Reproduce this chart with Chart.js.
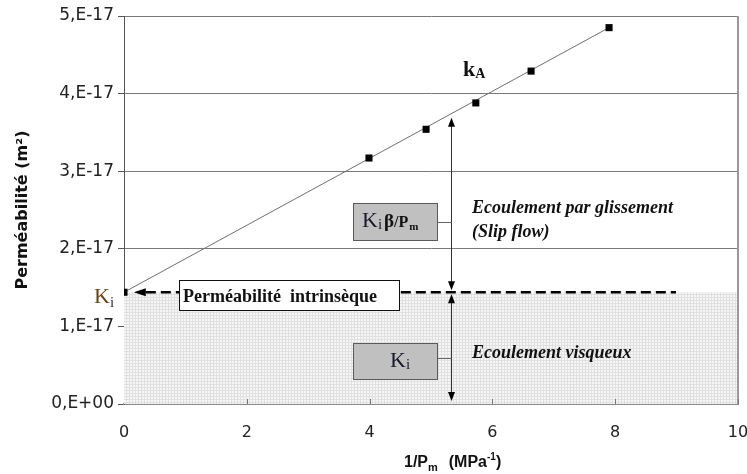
<!DOCTYPE html>
<html><head><meta charset="utf-8">
<script src="https://cdn.jsdelivr.net/npm/chart.js@4"></script>
<style>html,body{margin:0;padding:0;background:#fff}#wrap{width:747px;height:474px;position:relative}</style>
</head><body><div id="wrap"><canvas id="c" width="747" height="474"></canvas></div>
<script>
// ---- data ----
const invPm = [0, 3.99, 4.92, 5.73, 6.63, 7.90];                 // 1/Pm (MPa^-1)
const permeability = [1.44e-17, 3.17e-17, 3.54e-17, 3.88e-17, 4.29e-17, 4.85e-17]; // m²
const fitX = [0, 7.90];
const fitY = [1.44e-17, 4.85e-17];
const kIntrinsic = 1.44e-17;
const shadeX = [0, 10];
const xTickValues = [0, 2, 4, 6, 8, 10];
const xTickLabels = ['0', '2', '4', '6', '8', '10'];
const yTickValues = [0, 1e-17, 2e-17, 3e-17, 4e-17, 5e-17];
const yTickLabels = ['0,E+00', '1,E-17', '2,E-17', '3,E-17', '4,E-17', '5,E-17'];

// dotted texture for the viscous-flow zone
function makePattern() {
  const p = document.createElement('canvas'); p.width = 3; p.height = 3;
  const g = p.getContext('2d');
  g.fillStyle = '#f6f6f6'; g.fillRect(0, 0, 3, 3);
  g.fillStyle = '#e0e0e0'; g.fillRect(0, 0, 3, 1); g.fillRect(0, 0, 1, 3);
  return document.getElementById('c').getContext('2d').createPattern(p, 'repeat');
}

function runs(ctx, x, base, parts) {
  let cx = x;
  for (const r of parts) {
    ctx.font = r.f; ctx.fillStyle = r.c || '#111';
    ctx.fillText(r.t, cx, base + (r.dy || 0));
    cx += ctx.measureText(r.t).width + (r.sp || 0);
  }
}
function arrowHead(ctx, x, y, dir, w, l) {
  ctx.beginPath();
  if (dir === 'up') { ctx.moveTo(x, y); ctx.lineTo(x - w / 2, y + l); ctx.lineTo(x + w / 2, y + l); }
  else if (dir === 'down') { ctx.moveTo(x, y); ctx.lineTo(x - w / 2, y - l); ctx.lineTo(x + w / 2, y - l); }
  else { ctx.moveTo(x, y); ctx.lineTo(x + l, y - w / 2); ctx.lineTo(x + l, y + w / 2); }
  ctx.closePath(); ctx.fill();
}

const annot = {
  id: 'annot',
  afterDatasetsDraw(chart) {
    const { ctx, scales: { x, y }, chartArea: ca } = chart;
    ctx.save();
    // right frame
    ctx.strokeStyle = '#9a9a9a'; ctx.lineWidth = 2;
    ctx.beginPath(); ctx.moveTo(ca.right, ca.top); ctx.lineTo(ca.right, ca.bottom); ctx.stroke();
    // inner x ticks
    ctx.strokeStyle = '#777'; ctx.lineWidth = 1;
    xTickValues.forEach(v => {
      if (v === 0) return;
      const px = Math.round(x.getPixelForValue(v)) + 0.5;
      ctx.beginPath(); ctx.moveTo(px, ca.bottom); ctx.lineTo(px, ca.bottom - 5); ctx.stroke();
    });
    const ky = y.getPixelForValue(kIntrinsic);
    // dashed intrinsic line with arrow to Ki
    const tipX = x.getPixelForValue(0.16);
    ctx.fillStyle = '#000';
    arrowHead(ctx, tipX, ky, 'left', 8, 12);
    ctx.strokeStyle = '#000'; ctx.lineWidth = 2.5;
    ctx.setLineDash([10, 5]);
    ctx.beginPath(); ctx.moveTo(tipX + 12, ky); ctx.lineTo(x.getPixelForValue(8.99), ky); ctx.stroke();
    ctx.setLineDash([]);
    // vertical double arrows
    const ax = Math.round(x.getPixelForValue(5.32)) + 0.5;
    const topY = y.getPixelForValue(3.69e-17);
    ctx.strokeStyle = '#333'; ctx.lineWidth = 1; ctx.fillStyle = '#000';
    ctx.beginPath(); ctx.moveTo(ax, topY + 4); ctx.lineTo(ax, ky - 4); ctx.stroke();
    arrowHead(ctx, ax, topY, 'up', 7, 9);
    arrowHead(ctx, ax, ky - 2, 'down', 7, 9);
    ctx.beginPath(); ctx.moveTo(ax, ky + 4); ctx.lineTo(ax, ca.bottom - 6); ctx.stroke();
    arrowHead(ctx, ax, ky + 2, 'up', 7, 9);
    arrowHead(ctx, ax, ca.bottom - 3, 'down', 7, 9);
    // intrinsic permeability box
    ctx.fillStyle = '#fff'; ctx.fillRect(179, 280, 220, 30);
    ctx.strokeStyle = '#111'; ctx.lineWidth = 1; ctx.strokeRect(179.5, 280.5, 220, 30);
    runs(ctx, 183, 302, [{ t: 'Perméabilité  intrinsèque', f: 'bold 18px "Liberation Serif"' }]);
    // grey boxes + connectors
    ctx.strokeStyle = '#666'; ctx.lineWidth = 1;
    ctx.beginPath(); ctx.moveTo(437, 222.5); ctx.lineTo(ax, 222.5); ctx.moveTo(437, 358.5); ctx.lineTo(ax, 358.5); ctx.stroke();
    [[353, 203, 84, 37], [353, 343, 84, 36]].forEach(b => {
      ctx.fillStyle = '#c0c0c0'; ctx.fillRect(b[0], b[1], b[2], b[3]);
      ctx.strokeStyle = '#5a5a5a'; ctx.strokeRect(b[0] + 0.5, b[1] + 0.5, b[2], b[3]);
    });
    runs(ctx, 362, 227, [
      { t: 'K', f: '22px "Liberation Serif"', c: '#1a1a2a' },
      { t: 'i', f: '15px "Liberation Serif"', dy: 2, c: '#1a1a2a', sp: 2 },
      { t: 'β', f: 'bold 19px "Liberation Serif"' },
      { t: '/P', f: 'bold 16px "Liberation Serif"', sp: 1 },
      { t: 'm', f: 'bold 11px "Liberation Serif"', dy: 3 }
    ]);
    runs(ctx, 390, 367, [
      { t: 'K', f: '22px "Liberation Serif"', c: '#1a1a2a' },
      { t: 'i', f: '15px "Liberation Serif"', dy: 2, c: '#1a1a2a' }
    ]);
    // flow regime labels
    runs(ctx, 472, 213, [{ t: 'Ecoulement par glissement', f: 'italic bold 18px "Liberation Serif"' }]);
    runs(ctx, 472, 237, [{ t: '(Slip flow)', f: 'italic bold 18px "Liberation Serif"' }]);
    runs(ctx, 472, 358, [{ t: 'Ecoulement visqueux', f: 'italic bold 18px "Liberation Serif"' }]);
    // kA
    runs(ctx, 463, 76, [
      { t: 'k', f: 'bold 22px "Liberation Serif"' },
      { t: 'A', f: 'bold 14px "Liberation Serif"', dy: 2 }
    ]);
    // Ki at axis
    runs(ctx, 94, 303, [
      { t: 'K', f: '22px "Liberation Serif"', c: '#6a4418' },
      { t: 'i', f: '15px "Liberation Serif"', dy: 4, c: '#23304f' }
    ]);
    // x-axis title
    runs(ctx, 404, 467, [
      { t: '1/P', f: 'bold 16px "Liberation Sans"' },
      { t: 'm', f: 'bold 11px "Liberation Sans"', dy: 4, sp: 11 },
      { t: '(MPa', f: 'bold 16px "Liberation Sans"' },
      { t: '-1', f: 'bold 10px "Liberation Sans"', dy: -7 },
      { t: ')', f: 'bold 16px "Liberation Sans"' }
    ]);
    ctx.restore();
  }
};

new Chart(document.getElementById('c'), {
  type: 'scatter',
  data: {
    datasets: [
      { label: 'Mesures', data: invPm.map((v, i) => ({ x: v, y: permeability[i] })),
        pointStyle: 'rect', pointRadius: 5, backgroundColor: '#000', borderColor: '#000', borderWidth: 0, showLine: false, order: 1 },
      { label: 'kA', data: fitX.map((v, i) => ({ x: v, y: fitY[i] })),
        showLine: true, borderColor: '#707070', borderWidth: 1, pointRadius: 0, order: 2 },
      { label: 'zone', data: shadeX.map(v => ({ x: v, y: kIntrinsic })),
        showLine: true, borderWidth: 0, borderColor: 'rgba(0,0,0,0)', pointRadius: 0,
        fill: 'origin', backgroundColor: makePattern(), order: 3 }
    ]
  },
  options: {
    responsive: false, animation: false, devicePixelRatio: 1,
    layout: { padding: { top: 16, right: 9, left: 0, bottom: 0 } },
    plugins: { legend: { display: false }, tooltip: { enabled: false } },
    scales: {
      x: {
        type: 'linear', min: 0, max: 10,
        afterBuildTicks: s => { s.ticks = xTickValues.map(v => ({ value: v })); },
        afterFit: s => { s.height = 70; s.paddingLeft = 0; s.paddingRight = 0; },
        grid: { display: true, drawOnChartArea: false, drawTicks: false },
        border: { display: true, color: '#8a8a8a', width: 2 },
        ticks: { padding: 19, color: '#222', font: { family: 'DejaVu Sans', size: 16 },
          callback: (v) => xTickLabels[xTickValues.indexOf(v)] }
      },
      y: {
        type: 'linear', min: 0, max: 5e-17,
        afterBuildTicks: s => { s.ticks = yTickValues.map(v => ({ value: v })); },
        afterFit: s => { s.width = 124; s.paddingTop = 0; s.paddingBottom = 0; },
        grid: { color: '#7a7a7a', lineWidth: 1, tickLength: 6, tickColor: '#555' },
        border: { display: true, color: '#555', width: 1 },
        ticks: { padding: 4, color: '#222', font: { family: 'DejaVu Sans', size: 17 },
          callback: (v) => yTickLabels[Math.round(v / 1e-17)] },
        title: { display: true, text: 'Perméabilité (m²)', color: '#111',
          font: { family: 'DejaVu Sans', size: 16, weight: 'bold' }, padding: { top: 13, bottom: 0 } }
      }
    }
  },
  plugins: [annot]
});
</script></body></html>
